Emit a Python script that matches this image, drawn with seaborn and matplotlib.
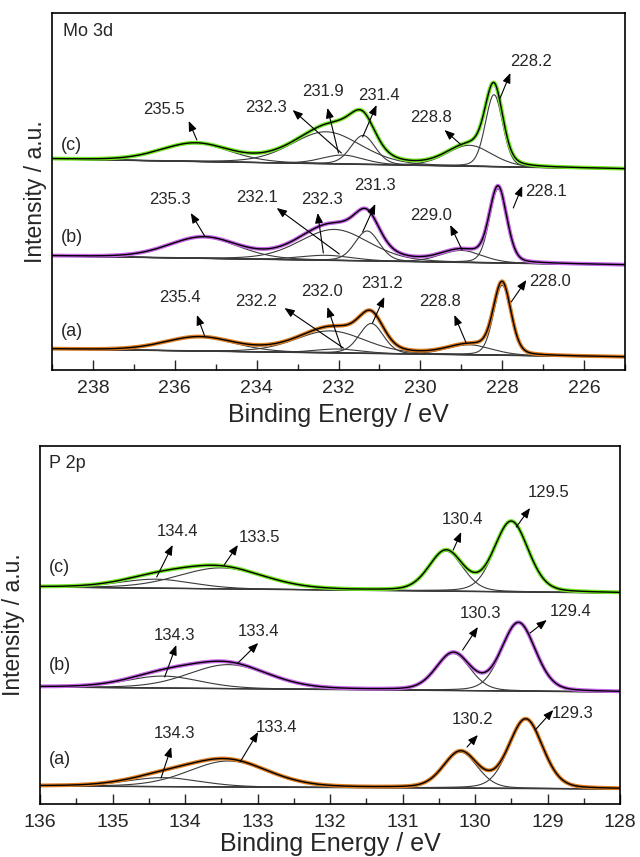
import numpy as np
import pandas as pd
import matplotlib
matplotlib.use("Agg")
import matplotlib.pyplot as plt
from matplotlib.ticker import MultipleLocator
import seaborn as sns

# ---- Mo 3d fit components: centre (eV), height (a.u.), FWHM (eV)
mo_samples = ["(a)", "(b)", "(c)"]
mo_colors = ["#dc7a1e", "#c763e8", "#72e622"]
mo_bg = [(21, 13), (114, 105), (211, 201)]          # background at 239 eV / 225 eV

mo_a_pos = [235.4, 232.2, 232.0, 231.2, 228.8, 228.0]
mo_a_height = [14, 22, 4, 30, 10, 70]
mo_a_fwhm = [2.0, 2.0, 1.3, 0.7, 1.3, 0.5]

mo_b_pos = [235.3, 232.1, 232.3, 231.3, 229.0, 228.1]
mo_b_height = [21, 31, 5, 30, 12, 74]
mo_b_fwhm = [2.0, 2.0, 1.5, 0.7, 1.2, 0.5]

mo_c_pos = [235.5, 232.3, 231.9, 231.4, 228.8, 228.2]
mo_c_height = [18, 32, 9, 29, 21, 72]
mo_c_fwhm = [2.0, 2.0, 1.2, 0.7, 1.3, 0.5]

# ---- P 2p fit components
p_bg = [(18, 15), (117, 112), (217, 211)]            # background at 136 eV / 128 eV

p_a_pos = [134.3, 133.4, 130.2, 129.3]
p_a_height = [9, 26, 36, 69]
p_a_fwhm = [1.2, 1.3, 0.55, 0.55]

p_b_pos = [134.3, 133.4, 130.3, 129.4]
p_b_height = [12, 24, 37, 68]
p_b_fwhm = [1.2, 1.3, 0.55, 0.55]

p_c_pos = [134.4, 133.5, 130.4, 129.5]
p_c_height = [9, 21, 40, 70]
p_c_fwhm = [1.2, 1.4, 0.55, 0.55]

# ---- peak labels: text, label centre, arrow head, arrow tail (eV, a.u.)
mo_labels = [
    ("235.4", (235.88, 73), (235.46, 55), (235.27, 34)),
    ("232.2", (234.02, 68), (233.32, 62), (231.88, 22)),
    ("232.0", (232.41, 78), (232.27, 63), (231.93, 22)),
    ("231.2", (230.93, 87), (230.88, 73), (231.17, 47)),
    ("228.8", (229.51, 68), (229.17, 55), (228.88, 27)),
    ("228.0", (226.83, 88), (227.41, 90), (227.78, 68)),
    ("235.3", (236.12, 170), (235.61, 157), (235.27, 134)),
    ("232.1", (233.98, 172), (233.51, 162), (231.98, 116)),
    ("232.3", (232.41, 170), (232.51, 157), (232.37, 117)),
    ("231.3", (231.12, 185), (231.10, 166), (231.41, 138)),
    ("229.0", (229.73, 155), (229.27, 145), (228.98, 120)),
    ("228.1", (226.93, 178), (227.51, 184), (227.73, 162)),
    ("235.5", (236.27, 260), (235.66, 249), (235.46, 230)),
    ("232.3", (233.78, 263), (233.12, 260), (231.93, 217)),
    ("231.9", (232.39, 278), (232.27, 262), (232.00, 217)),
    ("231.4", (231.02, 274), (231.07, 265), (231.41, 233)),
    ("228.8", (229.73, 253), (229.41, 240), (229.00, 225)),
    ("228.2", (227.29, 309), (227.80, 297), (228.07, 270)),
]
p_labels = [
    ("134.3", (134.14, 71), (134.19, 57), (134.33, 26)),
    ("133.4", (132.74, 76), (132.99, 72), (133.24, 42)),
    ("130.2", (130.04, 84), (129.96, 69), (130.11, 57)),
    ("129.3", (128.65, 91), (128.92, 94), (129.17, 74)),
    ("134.3", (134.14, 169), (134.12, 159), (134.28, 127)),
    ("133.4", (132.99, 172), (132.99, 161), (133.27, 141)),
    ("130.3", (129.93, 191), (129.96, 177), (130.17, 154)),
    ("129.4", (128.68, 192), (129.01, 184), (129.24, 171)),
    ("134.4", (134.11, 272), (134.17, 259), (134.39, 227)),
    ("133.5", (132.97, 267), (133.27, 259), (133.46, 239)),
    ("130.4", (130.17, 285), (130.19, 272), (130.30, 254)),
    ("129.5", (128.98, 311), (129.24, 296), (129.43, 277)),
]
mo_sample_y = [38, 132, 225]
p_sample_y = [44, 139, 237]


def peak(x, c, h, w, m=0.2):
    # Gaussian-Lorentzian sum line shape used for the XPS fit
    g = np.exp(-4 * np.log(2) * ((x - c) / w) ** 2)
    l = 1 / (1 + 4 * ((x - c) / w) ** 2)
    return h * ((1 - m) * g + m * l)


def draw_spectrum(ax, x, bg, pos, height, fwhm, color):
    base = np.interp(x, [x.min(), x.max()], [bg[1], bg[0]])
    comps = [peak(x, c, h, w) for c, h, w in zip(pos, height, fwhm)]
    env = base + np.sum(comps, axis=0)
    sns.lineplot(x=x, y=base, ax=ax, color="#222222", lw=1.0)
    for comp in comps:
        sns.lineplot(x=x, y=base + comp, ax=ax, color="#3a3a3a", lw=0.8)
    sns.lineplot(x=x, y=env, ax=ax, color=color, lw=2.8)
    sns.lineplot(x=x, y=env, ax=ax, color="black", lw=1.0)


def add_labels(ax, labels):
    for text, lab, head, tail in labels:
        ax.annotate("", xy=head, xytext=tail,
                    arrowprops=dict(arrowstyle="-|>,head_length=0.6,head_width=0.24",
                                    color="black", lw=0.8, shrinkA=0, shrinkB=0))
        ax.text(lab[0], lab[1], text, ha="center", va="center", fontsize=12)


sns.set_style("white")
plt.rcParams["font.family"] = ["Liberation Sans", "DejaVu Sans"]

fig = plt.figure(figsize=(6.4, 8.57), dpi=100)
ax1 = fig.add_axes([52 / 640, 1 - 370 / 857, 573 / 640, 357 / 857])
ax2 = fig.add_axes([40 / 640, 1 - 804 / 857, 580 / 640, 358 / 857])

# Mo 3d
x_mo = np.linspace(239, 225, 900)
mo_sets = [(mo_a_pos, mo_a_height, mo_a_fwhm),
           (mo_b_pos, mo_b_height, mo_b_fwhm),
           (mo_c_pos, mo_c_height, mo_c_fwhm)]
for (pos, hgt, fw), bg, col in zip(mo_sets, mo_bg, mo_colors):
    draw_spectrum(ax1, x_mo, bg, pos, hgt, fw, col)
add_labels(ax1, mo_labels)
for name, yy in zip(mo_samples, mo_sample_y):
    ax1.text(238.78, yy, name, ha="left", va="center", fontsize=13)
ax1.text(0.019, 0.947, "Mo 3d", transform=ax1.transAxes, ha="left", va="center", fontsize=13)
ax1.set_xlim(239, 225)
ax1.set_ylim(0, 357)
ax1.xaxis.set_major_locator(MultipleLocator(2))
ax1.xaxis.set_minor_locator(MultipleLocator(1))

# P 2p
x_p = np.linspace(136, 128, 900)
p_sets = [(p_a_pos, p_a_height, p_a_fwhm),
          (p_b_pos, p_b_height, p_b_fwhm),
          (p_c_pos, p_c_height, p_c_fwhm)]
for (pos, hgt, fw), bg, col in zip(p_sets, p_bg, mo_colors):
    draw_spectrum(ax2, x_p, bg, pos, hgt, fw, col)
add_labels(ax2, p_labels)
for name, yy in zip(mo_samples, p_sample_y):
    ax2.text(135.88, yy, name, ha="left", va="center", fontsize=13)
ax2.text(0.0155, 0.952, "P 2p", transform=ax2.transAxes, ha="left", va="center", fontsize=13)
ax2.set_xlim(136, 128)
ax2.set_ylim(0, 358)
ax2.xaxis.set_major_locator(MultipleLocator(1))
ax2.xaxis.set_minor_locator(MultipleLocator(0.5))

for ax, lx, ly in [(ax1, -0.009, -0.092), (ax2, -0.026, -0.079)]:
    ax.set_yticks([])
    ax.set_xlabel("Binding Energy / eV", fontsize=18)
    ax.set_ylabel("Intensity / a.u.", fontsize=16.5)
    ax.yaxis.set_label_coords(lx, 0.5)
    ax.xaxis.set_label_coords(0.5, ly)
    ax.tick_params(axis="x", which="major", direction="in", length=7, width=1,
                   labelsize=14, pad=7, bottom=True)
    ax.tick_params(axis="x", which="minor", direction="in", length=4, width=1, bottom=True)
    for sp in ax.spines.values():
        sp.set_color("black")
        sp.set_linewidth(1.2)

fig.savefig("out.png", dpi=100)
